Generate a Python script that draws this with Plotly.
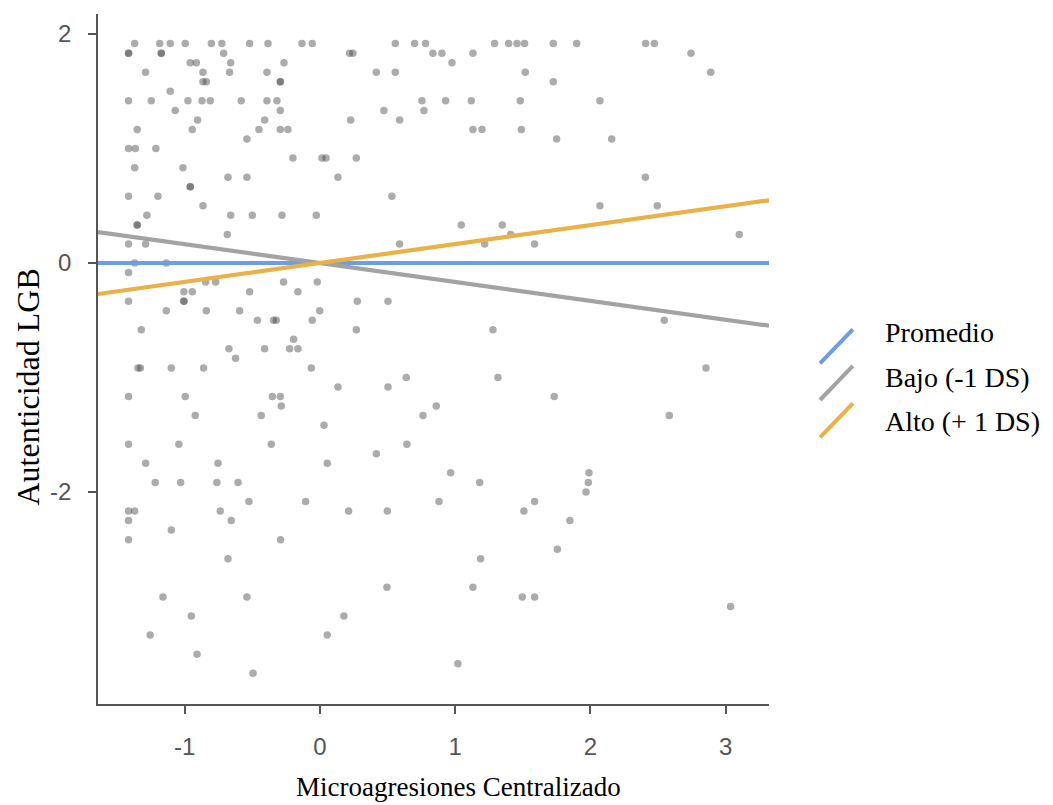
import plotly.graph_objects as go

# ---- data ----
micro_x = [
    # y = 1.92
    -1.370, -1.185, -1.107, -0.996, -0.803, -0.725, -0.520, -0.384, -0.133, -0.057,
    0.557, 0.700, 0.781, 1.291, 1.395, 1.457, 1.513, 1.725, 1.898, 2.408, 2.472,
    # y = 1.83
    -1.415, -1.415, -1.173, -1.173, -0.712, 0.219, 0.244, 0.835, 0.902, 1.131, 2.743,
    # y = 1.75
    -0.959, -0.914, -0.660, -0.266, 0.976,
    # y = 1.67
    -1.289, -0.865, -0.668, -0.392, 0.417, 0.557, 1.518, 2.889,
    # y = 1.58
    -0.865, -0.840, -0.293, -0.293, 1.725,
    # y = 1.50
    -1.107,
    # y = 1.42
    -1.415, -1.247, -0.976, -0.872, -0.811, -0.582, -0.392, -0.318, 0.754, 0.929, 1.119, 1.481, 2.070,
    # y = 1.33
    -1.070, -0.293, 0.473, 0.769,
    # y = 1.25
    -0.905, -0.409, 0.227, 0.589,
    # y = 1.17
    -1.351, -0.944, -0.451, -0.293, -0.237, 1.131, 1.198, 1.489,
    # y = 1.08
    -0.540, 1.750, 2.157,
    # y = 1.00
    -1.415, -1.365, -1.213,
    # y = 0.92
    -0.200, 0.015, 0.045, 0.269,
    # y = 0.83
    -1.370, -1.013,
    # y = 0.75
    -0.680, -0.540, 0.133, 2.406,
    # y = 0.67
    -0.959, -0.959,
    # y = 0.58
    -1.415, -1.198, 0.532,
    # y = 0.50
    -0.865, 2.070, 2.494,
    # y = 0.42
    -1.279, -0.660, -0.500, -0.281, -0.027,
    # y = 0.33
    -1.351, -1.351, 1.045, 1.348,
    # y = 0.25
    -0.685, 1.410, 3.100,
    # y = 0.17
    -1.415, -1.289, 0.589, 1.218, 1.587,
    # y = 0
    -1.370, -1.136,
    # y = -0.08
    -1.415,
    # y = -0.17
    -0.845, -0.771, -0.269, -0.020,
    # y = -0.25
    -1.006, -0.944, -0.520, -0.163,
    # y = -0.33
    -1.415, -1.006, -1.006, 0.276, 0.503,
    # y = -0.42
    -1.136, -0.840, -0.594, -0.002,
    # y = -0.50
    -0.463, -0.343, -0.323, -0.057, 2.546,
    # y = -0.58
    -1.321, 0.269, 1.279,
    # y = -0.67
    -0.195,
    # y = -0.75
    -0.673, -0.409, -0.224, -0.163,
    # y = -0.83
    -0.624,
    # y = -0.92
    -1.346, -1.328, -1.099, -0.860, -0.064, 2.854,
    # y = -1.00
    0.638, 1.316,
    # y = -1.08
    0.133, 0.503,
    # y = -1.17
    -1.415, -0.996, -0.352, -0.293, 1.732,
    # y = -1.25
    -0.286, 0.860,
    # y = -1.33
    -0.922, -0.434, 0.762, 2.583,
    # y = -1.42
    0.030,
    # y = -1.58
    -1.415, -1.043, -0.360, 0.643,
    # y = -1.67
    0.417,
    # y = -1.75
    -1.289, -0.754, 0.054,
    # y = -1.83
    0.966, 1.989,
    # y = -1.92
    -1.218, -1.030, -0.762, -0.606, 1.181, 1.984,
    # y = -2.00
    1.967,
    # y = -2.08
    -0.525, -0.106, 0.880, 1.587,
    # y = -2.17
    -1.415, -1.370, -0.737, 0.212, 0.498, 1.508,
    # y = -2.25
    -1.415, -0.656, 1.848,
    # y = -2.33
    -1.099,
    # y = -2.42
    -1.415, -0.291,
    # y = -2.50
    1.755,
    # y = -2.58
    -0.680, 1.188,
    # y = -2.83
    0.495, 1.131,
    # y = -2.92
    -1.161, -0.540, 1.496, 1.587,
    # y = -3.00
    3.036,
    # y = -3.08
    -0.951, 0.177,
    # y = -3.25
    -1.255, 0.054,
    # y = -3.42
    -0.909,
    # y = -3.50
    1.020,
    # y = -3.58
    -0.495,
]

autent_y = (
    [1.917] * 21 + [1.833] * 11 + [1.750] * 5 + [1.667] * 8 + [1.583] * 5 + [1.500] * 1
    + [1.417] * 13 + [1.333] * 4 + [1.250] * 4 + [1.167] * 8 + [1.083] * 3 + [1.000] * 3
    + [0.917] * 4 + [0.833] * 2 + [0.750] * 4 + [0.667] * 2 + [0.583] * 3 + [0.500] * 3
    + [0.417] * 5 + [0.333] * 4 + [0.250] * 3 + [0.167] * 5 + [0.000] * 2 + [-0.083] * 1
    + [-0.167] * 4 + [-0.250] * 4 + [-0.333] * 5 + [-0.417] * 4 + [-0.500] * 5 + [-0.583] * 3
    + [-0.667] * 1 + [-0.750] * 4 + [-0.833] * 1 + [-0.917] * 6 + [-1.000] * 2 + [-1.083] * 2
    + [-1.167] * 5 + [-1.250] * 2 + [-1.333] * 4 + [-1.417] * 1 + [-1.583] * 4 + [-1.667] * 1
    + [-1.750] * 3 + [-1.833] * 2 + [-1.917] * 6 + [-2.000] * 1 + [-2.083] * 4 + [-2.167] * 6
    + [-2.250] * 3 + [-2.333] * 1 + [-2.417] * 2 + [-2.500] * 1 + [-2.583] * 2 + [-2.833] * 2
    + [-2.917] * 4 + [-3.000] * 1 + [-3.083] * 2 + [-3.250] * 2 + [-3.417] * 1 + [-3.500] * 1
    + [-3.583] * 1
)

line_names = ["Promedio", "Bajo (-1 DS)", "Alto (+ 1 DS)"]
line_slopes = [0.0, -0.165, 0.165]
line_intercepts = [0.0, 0.0, 0.0]
line_colors = ["#6d9de8", "#a3a3a3", "#e9b148"]

x_ticks = [-1, 0, 1, 2, 3]
y_ticks = [-2, 0, 2]
x_range = [-1.641, 3.32]
y_range = [-3.852, 2.175]

x_title = "Microagresiones Centralizado"
y_title = "Autenticidad LGB"

# ---- figure ----
fig = go.Figure()

fig.add_trace(go.Scatter(
    x=micro_x, y=autent_y, mode="markers",
    marker=dict(size=7.5, color="rgba(70,70,70,0.45)", line=dict(width=0)),
    showlegend=False, hoverinfo="x+y",
))

for name, b, a, c in zip(line_names, line_slopes, line_intercepts, line_colors):
    fig.add_trace(go.Scatter(
        x=x_range, y=[a + b * x_range[0], a + b * x_range[1]],
        mode="lines", line=dict(color=c, width=4.2), name=name, showlegend=False,
    ))

axis_col = "#555555"
tick_font = dict(family="Liberation Sans Narrow, Arial Narrow, Liberation Sans, Arial",
                 size=24, color="#555555")
fig.update_layout(
    width=1053, height=805,
    margin=dict(l=98, r=284, t=14, b=101),
    paper_bgcolor="white", plot_bgcolor="white",
    xaxis=dict(
        range=x_range, tickvals=x_ticks, ticktext=[str(v) for v in x_ticks],
        showgrid=False, zeroline=False, showline=True, linecolor=axis_col, linewidth=1.6,
        ticks="outside", ticklen=8, tickwidth=1.6, tickcolor=axis_col,
        tickfont=tick_font, ticklabelstandoff=12,
    ),
    yaxis=dict(
        range=y_range, tickvals=y_ticks, ticktext=[str(v) for v in y_ticks],
        showgrid=False, zeroline=False, showline=True, linecolor=axis_col, linewidth=1.6,
        ticks="outside", ticklen=8, tickwidth=1.6, tickcolor=axis_col,
        tickfont=tick_font, ticklabelstandoff=12,
    ),
)

serif = "Liberation Serif, Times New Roman, serif"

# axis titles as annotations (paper coords)
fig.add_annotation(text=x_title, xref="paper", yref="paper", x=0.538, y=-0.12,
                   xanchor="center", yanchor="middle", showarrow=False,
                   font=dict(family=serif, size=27, color="black"))
fig.add_annotation(text=y_title, xref="paper", yref="paper", x=-0.104, y=0.459,
                   xanchor="center", yanchor="middle", textangle=-90, showarrow=False,
                   font=dict(family=serif, size=32, color="black"))

# legend: diagonal keys + labels
key_x0, key_x1 = 1.076, 1.125         # paper x for px 820..853
key_tops = [0.5430, 0.4899, 0.4358]   # paper y of upper-right ends
key_h = 0.0493
label_y = [0.5391, 0.4739, 0.4101]
for c, top, ly, name in zip(line_colors, key_tops, label_y, line_names):
    fig.add_shape(type="line", xref="paper", yref="paper",
                  x0=key_x0, y0=top - key_h, x1=key_x1, y1=top,
                  line=dict(color=c, width=4))
    fig.add_annotation(text=name, xref="paper", yref="paper", x=1.170, y=ly,
                       xanchor="left", yanchor="middle", showarrow=False,
                       font=dict(family=serif, size=28, color="black"))

fig.write_html("out.html", config={"displayModeBar": False},
               post_script="document.body.style.margin='0';document.body.style.overflow='hidden';")
